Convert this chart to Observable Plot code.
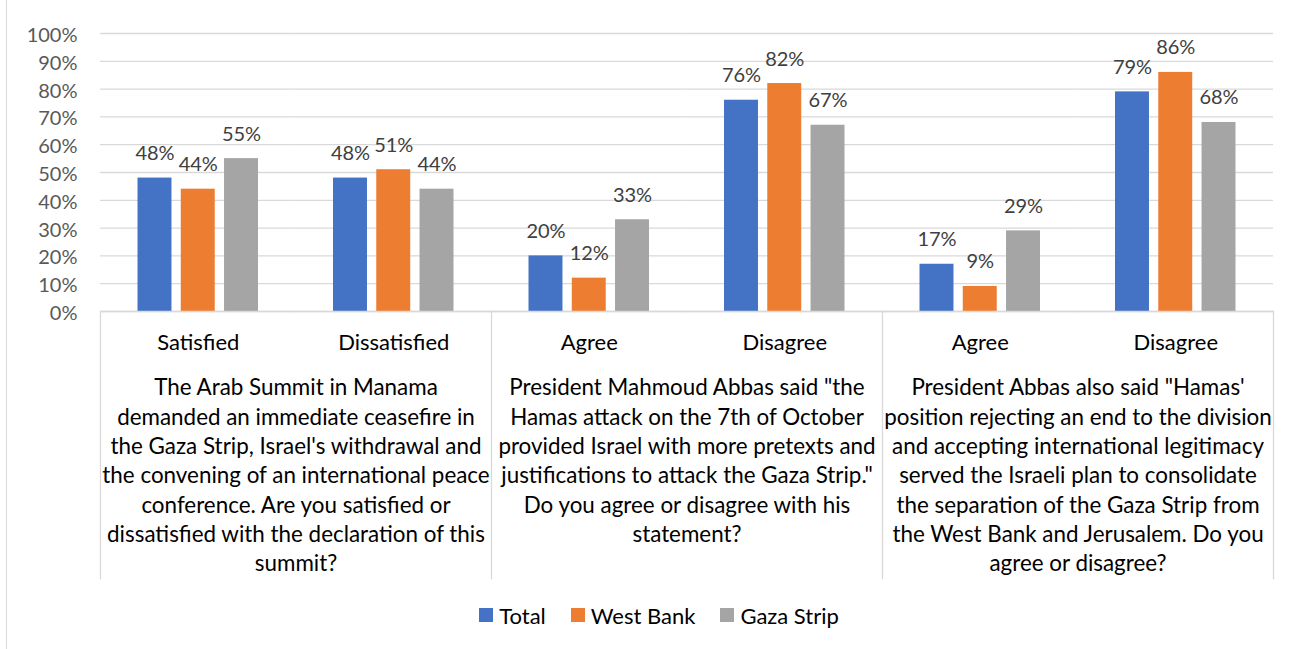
<!DOCTYPE html>
<html>
<head>
<meta charset="utf-8">
<script src="https://cdn.jsdelivr.net/npm/d3@7"></script>
<script src="https://cdn.jsdelivr.net/npm/@observablehq/plot@0.6"></script>
<style>
  body { margin: 0; background: #fff; }
  #wrap { position: relative; width: 1302px; height: 649px; overflow: hidden; background: #fff; }
  #chart { position: absolute; left: 0; top: 0; }
  #border { position: absolute; left: 6px; top: 0; width: 1px; height: 649px; background: #d9d9d9; }
  #legend { position: absolute; left: 0; top: 598px; width: 1302px; padding-left: 16px; box-sizing: border-box;
            display: flex; justify-content: center; }
  #legend .lg-swatches { font-family: Lato, sans-serif !important; font-size: 22px !important; color: #000 !important;
            margin: 0 !important; min-height: 34px !important; }
  #legend .lg-swatch { margin-right: 25px !important; }
  #legend .lg-swatch:last-child { margin-right: 0 !important; }
  #legend .lg-swatch > svg { margin-right: 6px !important; }
</style>
</head>
<body>
<div id="wrap"><div id="chart"></div><div id="border"></div><div id="legend"></div></div>
<script>
// ---- data ----
const series = ["Total", "West Bank", "Gaza Strip"];
const seriesColors = ["#4472C4", "#ED7D31", "#A5A5A5"];
const categoryIds = ["c1", "c2", "c3", "c4", "c5", "c6"];
const categoryLabels = ["Satisfied", "Dissatisfied", "Agree", "Disagree", "Agree", "Disagree"];
const totalValues = [48, 48, 20, 76, 17, 79];
const westBankValues = [44, 51, 12, 82, 9, 86];
const gazaStripValues = [55, 44, 33, 67, 29, 68];
const questionTexts = [
  "The Arab Summit in Manama\ndemanded an immediate ceasefire in\nthe Gaza Strip, Israel's withdrawal and\nthe convening of an international peace\nconference. Are you satisfied or\ndissatisfied with the declaration of this\nsummit?",
  "President Mahmoud Abbas said \"the\nHamas attack on the 7th of October\nprovided Israel with more pretexts and\njustifications to attack the Gaza Strip.\"\nDo you agree or disagree with his\nstatement?",
  "President Abbas also said \"Hamas'\nposition rejecting an end to the division\nand accepting international legitimacy\nserved the Israeli plan to consolidate\nthe separation of the Gaza Strip from\nthe West Bank and Jerusalem. Do you\nagree or disagree?"
];
const questionFirstCategory = ["c1", "c3", "c5"];
const groupStartCategories = ["c1", "c3", "c5"];
const groupEndCategory = "c6";
const yTicks = [0, 10, 20, 30, 40, 50, 60, 70, 80, 90, 100];

// ---- tables ----
const seriesValues = [totalValues, westBankValues, gazaStripValues];
const rows = categoryIds.flatMap((id, i) =>
  series.map((s, j) => ({cat: id, series: s, value: seriesValues[j][i]})));
const catRows = categoryIds.map((id, i) => ({cat: id, label: categoryLabels[i]}));
const qRows = questionTexts.map((t, i) => ({cat: questionFirstCategory[i], text: t}));

const gridColor = "#d9d9d9";
const sepMarks = groupStartCategories.map(c =>
  Plot.frame({fx: [c], anchor: "left", stroke: gridColor, strokeWidth: 1.3, insetTop: 278, insetBottom: -267}));
sepMarks.push(Plot.frame({fx: [groupEndCategory], anchor: "right", stroke: gridColor, strokeWidth: 1.3, insetTop: 278, insetBottom: -267}));

const chart = Plot.plot({
  width: 1302,
  height: 590,
  marginLeft: 100,
  marginRight: 29,
  marginTop: 33,
  marginBottom: 279,
  style: {fontFamily: "Lato, sans-serif", background: "transparent"},
  fx: {domain: categoryIds, padding: 0, round: false, axis: null},
  x: {domain: series, paddingInner: 0.215, paddingOuter: 0.867, round: false, axis: null},
  y: {domain: [0, 100], axis: null},
  color: {domain: series, range: seriesColors},
  marks: [
    Plot.gridY(yTicks, {stroke: gridColor, strokeOpacity: 1, strokeWidth: 1.3}),
    Plot.axisY(yTicks, {tickFormat: d => d + "%", tickSize: 0, tickPadding: 23, fontSize: 20, fill: "#595959", dy: 2, label: null}),
    Plot.barY(rows, {fx: "cat", x: "series", y: "value", fill: "series"}),
    Plot.ruleY([0], {stroke: gridColor, strokeWidth: 1.3}),
    Plot.text(rows, {fx: "cat", x: "series", y: "value", text: d => d.value + "%", dy: -18, lineAnchor: "bottom", fontSize: 20, fill: "#404040"}),
    Plot.text(catRows, {fx: "cat", frameAnchor: "bottom", text: "label", dy: 38, lineAnchor: "bottom", fontSize: 22, fill: "#000"}),
    Plot.text(qRows, {fx: "cat", frameAnchor: "bottom-right", text: "text", textAnchor: "middle", lineAnchor: "top", lineHeight: 1.31, fontSize: 22.4, fill: "#000", dy: 63}),
    ...sepMarks
  ]
});
document.getElementById("chart").appendChild(chart);

const legend = Plot.legend({color: {type: "ordinal", domain: series, range: seriesColors}, swatchSize: 14, className: "lg"});
document.getElementById("legend").appendChild(legend);
</script>
</body>
</html>
